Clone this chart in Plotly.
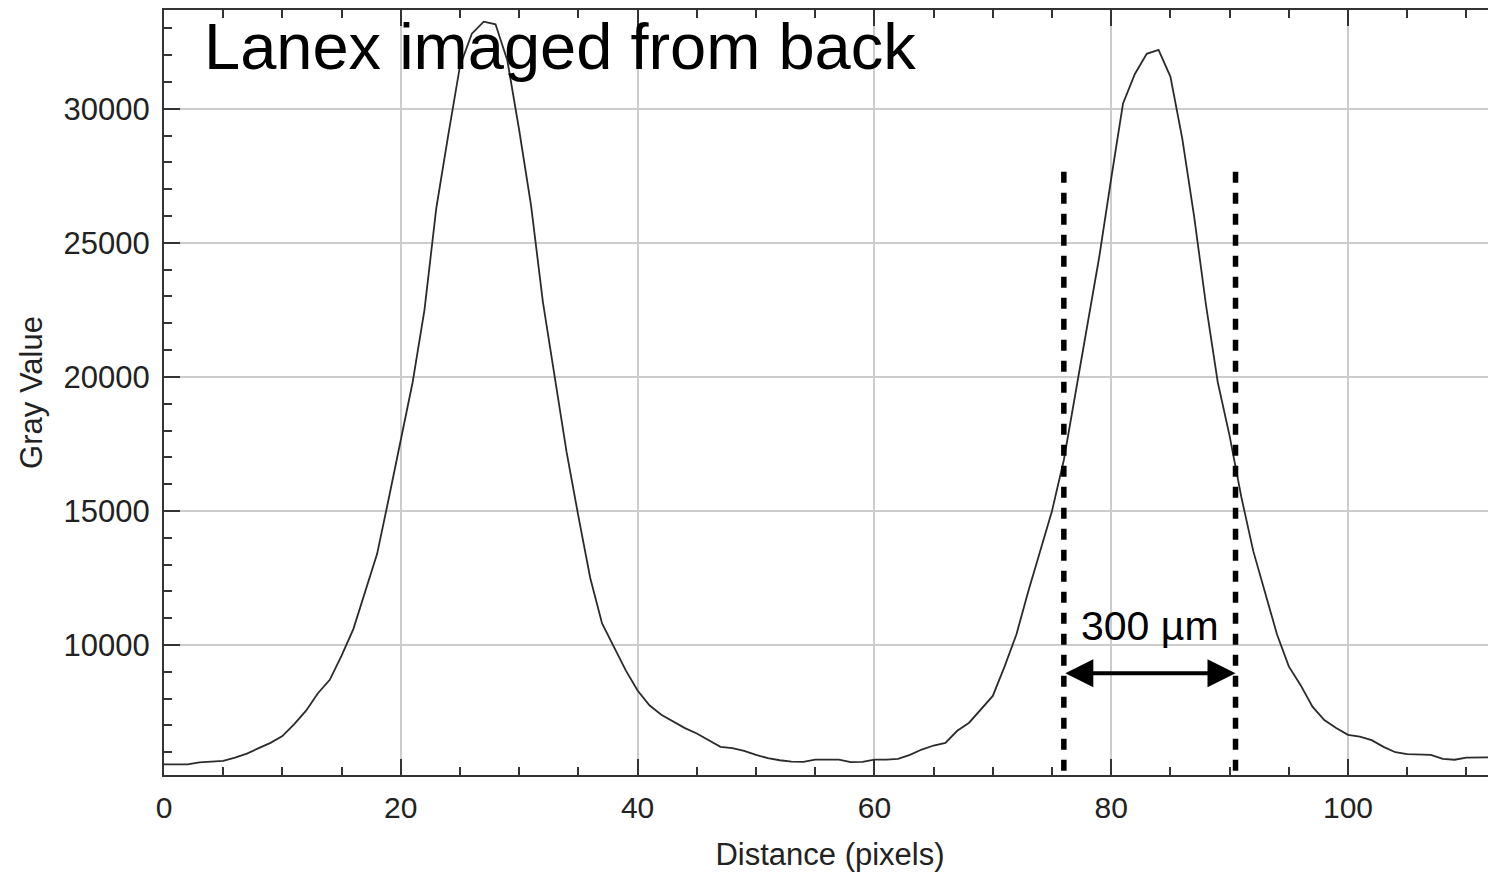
import plotly.graph_objects as go

# profile across the lanex screen, one value per pixel
distance = list(range(113))
gray = [
    5550, 5550, 5550, 5620, 5640, 5680, 5800, 5950, 6150, 6350,
    6600, 7050, 7550, 8200, 8700, 9600, 10600, 12000, 13400, 15500,
    17700, 19800, 22500, 26300, 29000, 31600, 32800, 33250, 33150, 31800,
    29200, 26400, 22800, 20000, 17200, 14800, 12500, 10800, 9900, 9050,
    8300, 7750, 7400, 7150, 6900, 6700, 6450, 6200, 6150, 6050,
    5900, 5780, 5700, 5650, 5640, 5720, 5720, 5720, 5630, 5640,
    5720, 5720, 5750, 5900, 6100, 6250, 6350, 6800, 7100, 7600,
    8100, 9200, 10400, 12000, 13500, 15000, 16900, 19400, 22000, 24500,
    27400, 30200, 31300, 32050, 32200, 31200, 28900, 26000, 22700, 19800,
    17800, 15500, 13500, 11900, 10400, 9200, 8500, 7700, 7200, 6900,
    6650, 6580, 6450, 6200, 6000, 5930, 5920, 5900, 5750, 5720,
    5800, 5810, 5810,
]

fwhm_left = 76
fwhm_right = 90.5
fwhm_top = 27650
arrow_y = 8950
label_text = "300 µm"
title_text = "Lanex imaged from back"

font = "Liberation Sans, Arial, sans-serif"

fig = go.Figure()
fig.add_trace(go.Scatter(x=distance, y=gray, mode="lines",
                         line=dict(color="#2b2b2b", width=1.8),
                         showlegend=False))

# dotted FWHM markers, drawn top-down so the dash pattern starts at the top
for xv in (fwhm_left, fwhm_right):
    fig.add_shape(type="line", xref="x", yref="y", x0=xv, x1=xv,
                  y0=fwhm_top, y1=5030,
                  line=dict(color="black", width=5.5, dash="11px,10px"))

# double headed arrow between the markers
fig.add_annotation(x=fwhm_right, y=arrow_y, ax=fwhm_left, ay=arrow_y,
                   xref="x", yref="y", axref="x", ayref="y", text="",
                   showarrow=True, arrowhead=2, arrowside="end+start",
                   arrowwidth=4, arrowsize=1.4, arrowcolor="black",
                   standoff=0, startstandoff=0)
fig.add_annotation(x=83.3, y=10700, xref="x", yref="y", text=label_text,
                   showarrow=False, font=dict(family=font, size=41, color="black"))

fig.add_annotation(x=0.0285, y=1.0026, xref="paper", yref="paper",
                   xanchor="left", yanchor="top", text=title_text,
                   showarrow=False, font=dict(family=font, size=65, color="black"))

fig.update_xaxes(range=[0, 112.5], dtick=20, tick0=0,
                 showline=True, linecolor="#333333", linewidth=2, mirror="ticks",
                 ticks="inside", ticklen=16, tickwidth=2, tickcolor="#333333",
                 minor=dict(dtick=5, ticks="inside", ticklen=8, tickwidth=1.5,
                            tickcolor="#333333", showgrid=False),
                 showgrid=True, gridcolor="#cccccc", gridwidth=1.5, zeroline=False,
                 ticklabelstandoff=5,
                 tickfont=dict(family=font, size=30, color="#222222"),
                 title=dict(text="Distance (pixels)", standoff=20,
                            font=dict(family=font, size=31, color="#222222")))
fig.update_yaxes(range=[5150, 33685], dtick=5000, tick0=0,
                 showline=True, linecolor="#333333", linewidth=2, mirror=False,
                 ticks="inside", ticklen=16, tickwidth=2, tickcolor="#333333",
                 minor=dict(dtick=1000, ticks="inside", ticklen=8, tickwidth=1.5,
                            tickcolor="#333333", showgrid=False),
                 showgrid=True, gridcolor="#cccccc", gridwidth=1.5, zeroline=False,
                 tickformat="d", ticklabelstandoff=6,
                 tickfont=dict(family=font, size=31, color="#222222"),
                 title=dict(text="Gray Value", standoff=12,
                            font=dict(family=font, size=31, color="#222222")))

# the page body adds 8px, so the figure is 8px smaller and margins shifted
fig.update_layout(width=1488, height=864,
                  margin=dict(l=156, r=0, t=2, b=97),
                  plot_bgcolor="white", paper_bgcolor="white")

fig.write_html("out.html")
